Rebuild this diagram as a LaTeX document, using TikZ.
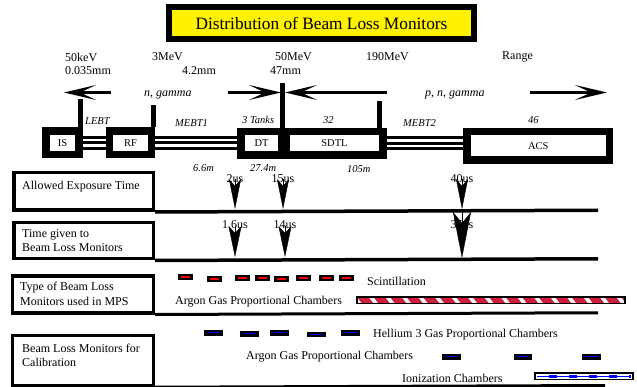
\documentclass[tikz,border=0pt]{standalone}
\usepackage{fontspec}
\setmainfont{Liberation Serif}
\usetikzlibrary{arrows.meta,backgrounds}
\definecolor{stripered}{RGB}{205,30,60}
\begin{document}
\begin{tikzpicture}[x=1pt,y=-1pt,
  lab/.style={inner sep=0pt, anchor=west, font=\fontsize{12}{14}\selectfont},
  ctr/.style={inner sep=0pt, font=\fontsize{12}{14}\selectfont},
  itlab/.style={inner sep=0pt, anchor=west, font=\fontsize{12}{14}\selectfont\itshape},
  blab/.style={inner sep=0pt, anchor=west, font=\fontsize{10.5}{12}\selectfont\itshape},
  titlebox/.style={draw=black, fill=yellow, line width=6pt, inner sep=0pt, font=\fontsize{17.3}{20}\selectfont},
  beambox/.style={draw=black, fill=white, line width=7.5pt, inner sep=0pt, font=\fontsize{10.5}{12}\selectfont},
  rowbox/.style={draw=black, line width=3.5pt, inner sep=0pt},
  rowline/.style={line width=3.5pt},
  tickbar/.style={line width=5pt},
  pipeblack/.style={line width=14pt},
  pipewhite/.style={draw=white, line width=2.5pt, double=black, double distance=3pt},
  beamarrow/.style={line width=3pt, -{Stealth[length=32pt,width=15pt,inset=16pt]}},
  downA/.style={line width=0.4pt, -{Stealth[length=30pt,width=12pt,inset=7pt]}},
  downB/.style={line width=0.4pt, -{Stealth[length=31pt,width=13pt,inset=7pt]}},
  downC/.style={line width=0.4pt, -{Stealth[length=46pt,width=18pt,inset=11pt]}}
]
\useasboundingbox (0,0) rectangle (637,387);

% title
\node[titlebox, minimum width=305pt, minimum height=32pt] (title) at (321.5,23) {Distribution of Beam Loss Monitors};

% top labels
\node[lab] (e1) at (65,57) {50keV};
\node[lab] (s1) at (65,71) {0.035mm};
\node[lab] (e2) at (152,57) {3MeV};
\node[lab] (s2) at (182,71) {4.2mm};
\node[lab] (e3) at (275,57) {50MeV};
\node[lab] (s3) at (270,71) {47mm};
\node[lab] (e4) at (366,57) {190MeV};
\node[lab] (rg) at (502,57) {Range};
\node[itlab] (ng) at (144,95) {n, gamma};
\node[itlab] (png) at (425,95) {p, n, gamma};

% beam line boxes
\node[beambox, minimum width=33pt, minimum height=23.5pt] (IS) at (62.5,142.75) {IS};
\node[beambox, minimum width=42pt, minimum height=23.5pt] (RF) at (130.5,142.75) {RF};
\node[beambox, minimum width=41pt, minimum height=23.5pt] (DT) at (261.5,143.25) {DT};
\node[beambox, minimum width=97pt, minimum height=23.5pt] (SDTL) at (334.5,143.25) {SDTL};
\node[beambox, minimum width=142.5pt, minimum height=28.5pt] (ACS) at (538.25,145.75) {ACS};

% pipes (behind boxes)
\begin{scope}[on background layer]
\draw[pipeblack] (IS.east) -- (RF.west);
\draw[pipewhite] (IS.east) -- (RF.west);
\draw[pipeblack] (RF.east) -- (RF.east -| DT.west);
\draw[pipewhite] (RF.east) -- (RF.east -| DT.west);
\draw[pipeblack] (SDTL.east) -- (SDTL.east -| ACS.west);
\draw[pipewhite] (SDTL.east) -- (SDTL.east -| ACS.west);
\end{scope}

% ticks
\coordinate (t1) at (80.5,99);
\coordinate (t2) at (153,105.5);
\coordinate (t3) at (282.5,83);
\coordinate (t4) at (379,101);
\draw[tickbar] (t1) -- (t1 |- IS.north);
\draw[tickbar] (t2) -- (t2 |- RF.north);
\draw[tickbar] (t3) -- (t3 |- DT.north);
\draw[tickbar] (t4) -- (t4 |- SDTL.north);

% top arrows
\coordinate (a1s) at (111,92.5); \coordinate (a1e) at (64,92.5);
\coordinate (a2s) at (228,92.5); \coordinate (a2e) at (281,92.5);
\coordinate (a3s) at (387,92.5); \coordinate (a3e) at (285,92.5);
\coordinate (a4s) at (530,92.5); \coordinate (a4e) at (607,92.5);
\draw[beamarrow] (a1s) -- (a1e);
\draw[beamarrow] (a2s) -- (a2e);
\draw[beamarrow] (a3s) -- (a3e);
\draw[beamarrow] (a4s) -- (a4e);

% beam labels
\node[blab] (lebt) at (85,121) {LEBT};
\node[blab] (mebt1) at (175,123) {MEBT1};
\node[blab] (tanks) at (242,120) {3 Tanks};
\node[blab] (n32) at (323,120) {32};
\node[blab] (mebt2) at (403,123) {MEBT2};
\node[blab] (n46) at (528,120) {46};
\node[blab] (l66) at (193,168) {6.6m};
\node[blab] (l274) at (250,168) {27.4m};
\node[blab] (l105) at (347,169) {105m};

% rows
\node[rowbox, minimum width=139.5pt, minimum height=37.5pt] (R1) at (83.5,191.5) {};
\coordinate (R1end) at (598,210.25);
\draw[rowline] (R1.south east) -- (R1end);
\node[lab] (r1t) at (22,187) {Allowed Exposure Time};

\node[rowbox, minimum width=139.5pt, minimum height=36pt] (R2) at (83.5,240.75) {};
\coordinate (R2end) at (598,258.75);
\draw[rowline] (R2.south east) -- (R2end);
\node[lab] (r2a) at (22,235) {Time given to};
\node[lab] (r2b) at (22,248) {Beam Loss Monitors};

\node[rowbox, minimum width=141pt, minimum height=36.5pt] (R3) at (82.75,294.5) {};
\coordinate (R3end) at (598,312.75);
\draw[line width=3pt] (R3.south east) -- (R3end);
\node[lab] (r3a) at (20,288) {Type of Beam Loss};
\node[lab] (r3b) at (20,301) {Monitors used in MPS};

\node[rowbox, minimum width=141pt, minimum height=50.25pt] (R4) at (82.75,360.375) {};
\coordinate (R4end) at (605,385.5);
\draw[line width=3pt] (R4.south east) -- (R4end);
\node[lab] (r4a) at (22,348) {Beam Loss Monitors for};
\node[lab] (r4b) at (22,362) {Calibration};

% scintillation segments
\foreach \x/\y in {178/274.5, 207/276.5, 235/275, 255/275, 274/276.5, 296/275, 319/275, 339/275} {
  \fill[black] (\x,\y) rectangle ++(15,6);
  \draw[red, line width=2pt] (\x+3,\y+3) -- ++(9,0);
}
\node[lab] (sc) at (367,281) {Scintillation};
\node[lab] (ar1) at (175,302) {Argon Gas Proportional Chambers};

% striped bar
\begin{scope}
  \clip (357,297) rectangle (625,303.5);
  \fill[white] (357,297) rectangle (625,303.5);
  \foreach \i in {-1,...,17} {
    \fill[stripered] (357+16.5*\i,297) -- ++(11.5,0) -- ++(5,6.5) -- ++(-11.5,0) -- cycle;
  }
\end{scope}
\draw[line width=1.6pt] (357,297) rectangle (625,303.5);

% helium segments
\foreach \x/\y in {204/330, 239.5/331, 269.5/330, 306.5/331.5, 341/330} {
  \fill[black] (\x,\y) rectangle ++(19,5.5);
  \draw[blue, line width=1.4pt] (\x+3,\y+2.75) -- ++(13,0);
}
\node[lab] (he) at (373,335) {Hellium 3 Gas Proportional Chambers};
\node[lab] (ar2) at (246,357) {Argon Gas Proportional Chambers};
\foreach \x/\y in {442/353.5, 513.5/353.5, 582/353.5} {
  \fill[black] (\x,\y) rectangle ++(18.5,6.5);
  \draw[blue, line width=1.4pt] (\x+3,\y+3.25) -- ++(12.5,0);
}
\node[lab] (io) at (402,378) {Ionization Chambers};
\fill[white] (535,373) rectangle (633,379.5);
\draw[blue, line width=1pt] (537,376.25) -- (631,376.25);
\draw[blue, line width=3pt, dash pattern=on 8pt off 12pt] (549,376.25) -- (631,376.25);
\draw[line width=1.8pt] (535,373) rectangle (633,379.5);

% time labels and down arrows
\node[ctr] (t2us) at (235,179) {2us};
\node[ctr] (t15us) at (283,179) {15us};
\node[ctr] (t40us) at (462,179) {40us};
\node[ctr] (t16us) at (235,225) {1.6us};
\node[ctr] (t14us) at (285,225) {14us};
\node[ctr] (t35us) at (462,225) {35us};

\coordinate (u1t) at (235,179); \coordinate (u1b) at (235,209);
\coordinate (u2t) at (283,179); \coordinate (u2b) at (283,209);
\coordinate (u3t) at (462,179); \coordinate (u3b) at (462,209);
\coordinate (v1t) at (235,226); \coordinate (v1b) at (235,257);
\coordinate (v2t) at (285,226); \coordinate (v2b) at (285,257);
\coordinate (v3t) at (462,212); \coordinate (v3b) at (462,258);
\draw[downA] (u1t) -- (u1b);
\draw[downA] (u2t) -- (u2b);
\draw[downA] (u3t) -- (u3b);
\draw[downB] (v1t) -- (v1b);
\draw[downB] (v2t) -- (v2b);
\draw[downC] (v3t) -- (v3b);
\end{tikzpicture}
\end{document}
